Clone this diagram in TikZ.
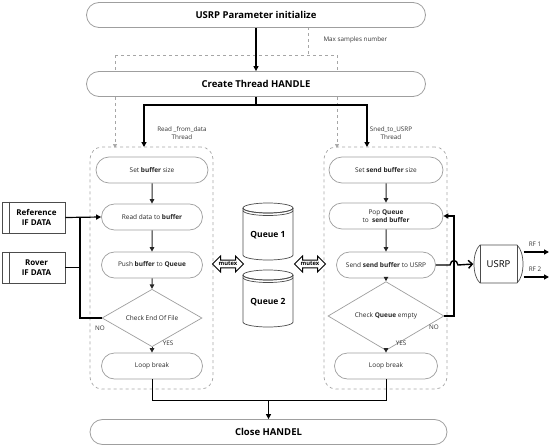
\documentclass[tikz,border=0pt]{standalone}
\usepackage{fontspec}
\setmainfont{Open Sans}
\usetikzlibrary{arrows.meta,shapes.geometric,shapes.misc,shapes.arrows}
\begin{document}
\begin{tikzpicture}[x=1pt,y=-1pt,
 bigbox/.style={draw=gray!75, line width=0.8pt, fill=white, rounded rectangle, minimum width=339pt, minimum height=25pt, font=\fontsize{9.5}{11}\selectfont\bfseries, inner sep=0pt},
 proc/.style={draw=gray!75, line width=0.7pt, fill=white, rounded rectangle, minimum height=26pt, font=\fontsize{6.5}{8}\selectfont, inner sep=0pt, align=center, text=black!85},
 dec/.style={draw=gray!75, line width=0.7pt, fill=white, diamond, minimum width=100pt, minimum height=37pt, inner sep=0pt, font=\fontsize{6.5}{7.5}\selectfont, text=black!85},
 mainarr/.style={line width=1.4pt, -{Triangle[length=5pt,width=5pt]}},
 inarr/.style={line width=1pt, draw=black!85, -{Triangle[length=4.5pt,width=4.5pt]}},
 dline/.style={dashed, draw=gray!70, line width=0.7pt},
 dasharr/.style={dline, -{Triangle[length=4pt, width=4pt]}},
 container/.style={dline, rounded corners=12pt, minimum width=123pt, minimum height=242pt, inner sep=0pt},
 lbl/.style={font=\fontsize{6.3}{7.3}\selectfont, text=black!80, align=center},
 inbox/.style={draw=gray!60!black, line width=0.7pt, minimum width=63pt, minimum height=31pt, font=\fontsize{8}{9.5}\selectfont\bfseries, align=center, inner sep=0pt},
 mutexarr/.style={double arrow, draw, line width=1pt, fill=white, minimum height=31pt, minimum width=16pt, double arrow head extend=3.5pt, inner sep=0.8pt, font=\fontsize{5.8}{6.2}\selectfont\bfseries},
 qtext/.style={font=\fontsize{8.5}{10}\selectfont\bfseries},
 cyl/.style={draw=gray!60!black, line width=0.7pt}
]
\useasboundingbox (0,0) rectangle (550,447);
% dashed max-samples lines (behind boxes)
\coordinate (ms) at (308,27);
\coordinate (msj) at (308,55);
\coordinate (dl) at (115,55);
\coordinate (dr) at (337,55);
\coordinate (dle) at (115,148);
\coordinate (dre) at (337,148);
\draw[dline] (ms) -- (msj);
\draw[dline] (dl) -- (dr);
\draw[dasharr] (dl) -- (dle);
\draw[dasharr] (dr) -- (dre);
\node[lbl, anchor=west] (mslbl) at (320,40) {Max samples number};

% containers
\node[container] (lc) at (151.5,268) {};
\node[container] (rc) at (385.5,268) {};

% big boxes
\node[bigbox] (init) at (256,15) {USRP Parameter initialize};
\node[bigbox] (create) at (256,84) {Create Thread HANDLE};
\node[bigbox, minimum width=357pt] (close) at (268.5,432) {Close HANDEL};
\draw[mainarr] (init.south) -- (create.north);

% thread split
\coordinate (split) at (256,105);
\coordinate (lt) at (144,147);
\coordinate (rt) at (367,147);
\draw[line width=1.4pt] (create.south) -- (split);
\draw[mainarr] (split) -| (lt);
\draw[mainarr] (split) -| (rt);
\node[lbl] (thl) at (182,133) {Read \_from\_data\\Thread};
\node[lbl] (thr) at (391,133) {Sned\_to\_USRP\\Thread};

% left thread
\node[proc, minimum width=112pt] (l1) at (152,170) {Set \textbf{buffer} size};
\node[proc, minimum width=101pt] (l2) at (152,217) {Read data to \textbf{buffer}};
\node[proc, minimum width=101pt] (l3) at (152,265) {Push \textbf{buffer} to \textbf{Queue}};
\node[dec] (l4) at (152,318) {Check End Of File};
\node[proc, minimum width=101pt] (l5) at (152,366) {Loop break};
\draw[inarr] (l1) -- (l2);
\draw[inarr] (l2) -- (l3);
\draw[inarr] (l3) -- (l4);
\draw[inarr] (l4) -- (l5);
\node[lbl] (yesl) at (168,343) {YES};
\node[lbl] (nol) at (100,328) {NO};

% right thread
\node[proc, minimum width=114pt] (r1) at (386,170) {Set \textbf{send buffer} size};
\node[proc, minimum width=114pt] (r2) at (386,216) {Pop \textbf{Queue}\\to \ \textbf{send buffer}};
\node[proc, minimum width=99pt] (r3) at (386,265) {Send \textbf{send buffer} to USRP};
\node[dec, minimum width=116pt, minimum height=38pt] (r4) at (386,316) {Check \textbf{Queue} empty};
\node[proc, minimum width=103pt] (r5) at (386,366) {Loop break};
\draw[inarr] (r1) -- (r2);
\draw[inarr] (r2) -- (r3);
\draw[inarr] (r3) -- (r4);
\draw[inarr] (r4) -- (r5);
\node[lbl] (yesr) at (401,343) {YES};
\node[lbl] (nor) at (434,327) {NO};
\coordinate (rj) at (454,216);
\draw[mainarr] (r4.east) -| (rj) -- (r2.east);

% inputs
\node[inbox] (ref) at (33.5,217.5) {\hspace{6pt}Reference\\\hspace{6pt}IF DATA};
\node[inbox] (rov) at (33.5,267.5) {\hspace{6pt}Rover\\\hspace{6pt}IF DATA};
\draw[draw=gray!60!black, line width=0.7pt] (ref.north west) ++(8,0) -- ++(0,31);
\draw[draw=gray!60!black, line width=0.7pt] (rov.north west) ++(8,0) -- ++(0,31);
\coordinate (jx) at (80,217.5);
\coordinate (jr) at (80,267.5);
\draw[mainarr, line width=1.2pt] (ref.east) -- (l2.west);
\draw[line width=1.2pt] (rov.east) -- (jr);
\draw[line width=1.2pt] (l4.west) -| (jx);

% queues
\node[qtext] (q1) at (268,235) {Queue 1};
\node[qtext] (q2) at (268,302) {Queue 2};
\foreach \dy in {0,67}{
  \begin{scope}[yshift=-\dy pt]
  \draw[cyl] (243,208) -- (243,255) arc (180:0:25 and 5) -- (293,208);
  \draw[cyl] (268,208) ellipse (25 and 5);
  \draw[cyl] (243,208) arc (180:0:25 and 5);
  \draw[cyl] (243,210.5) arc (180:0:25 and 5);
  \end{scope}
}

% mutex
\node[mutexarr] (m1) at (228,264) {mutex};
\node[mutexarr] (m2) at (310,264) {mutex};

% USRP
\node[font=\fontsize{9.5}{11}\selectfont, minimum width=50pt, minimum height=38pt, inner sep=0pt] (usrp) at (498.5,264) {USRP};
\draw[cyl] (480,245) -- (517,245) .. controls (525,252) and (525,276) .. (517,283) -- (480,283) .. controls (472,276) and (472,252) .. (480,245) -- cycle;
\draw[cyl] (480,245) -- (480,283);
\draw[cyl] (517,245) -- (517,283);
\coordinate (hop1) at (450,265);
\coordinate (hop2) at (458,265);
\draw[line width=1.4pt, -{Straight Barb[length=4pt,width=8pt]}] (r3.east) -- (hop1) .. controls (451,259) and (457,259) .. (hop2) -- (usrp.west);
\coordinate (rf1) at (549,252);
\coordinate (rf2) at (549,277);
\draw[mainarr, line width=1.2pt] (rf1 -| usrp.east) -- (rf1);
\draw[mainarr, line width=1.2pt] (rf2 -| usrp.east) -- (rf2);
\node[lbl] (rf1l) at (535,244) {RF 1};
\node[lbl] (rf2l) at (535,269) {RF 2};

% close
\coordinate (cj) at (268.5,400);
\draw[line width=1pt] (l5.south) |- (cj);
\draw[line width=1pt] (r5.south) |- (cj);
\draw[mainarr] (cj) -- (close.north);
\end{tikzpicture}
\end{document}
